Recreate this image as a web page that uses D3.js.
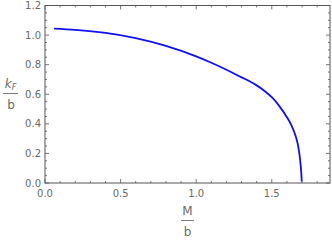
<!DOCTYPE html>
<html>
<head>
<meta charset="utf-8">
<script src="https://cdn.jsdelivr.net/npm/d3@7"></script>
<style>
  body { margin: 0; background: #fff; }
  svg { display: block; font-family: "DejaVu Sans", sans-serif; }
</style>
</head>
<body>
<svg width="332" height="241"></svg>
<script>
// courbe k_F/b en fonction de M/b
const massValues = [0.06, 0.2, 0.4, 0.6, 0.8, 1.0, 1.1, 1.2, 1.3, 1.35, 1.4, 1.45, 1.5, 1.55, 1.6, 1.63, 1.65, 1.67, 1.68, 1.69, 1.695, 1.698];
const kfValues   = [1.043, 1.035, 1.015, 0.980, 0.927, 0.856, 0.813, 0.766, 0.714, 0.690, 0.660, 0.624, 0.580, 0.520, 0.445, 0.390, 0.340, 0.272, 0.215, 0.130, 0.070, 0.010];
const xTicks = [0.0, 0.5, 1.0, 1.5];
const yTicks = [0.0, 0.2, 0.4, 0.6, 0.8, 1.0, 1.2];

const points = massValues.map((m, i) => ({ m: m, k: kfValues[i] }));

const svg = d3.select("svg");
const pLeft = 45, pRight = 330, pTop = 5.5, pBottom = 183;

const x = d3.scaleLinear().domain([0, 1.885]).range([pLeft, pRight]);
const y = d3.scaleLinear().domain([0, 1.2]).range([pBottom, pTop]);

const frameColor = "#555";
const labelColor = "#6a6a6a";

// ticks (intérieurs, Mathematica)
const xMinor = d3.range(0, 1.85, 0.1);
const yMinor = d3.range(0, 1.21, 0.05);

const ticks = svg.append("g").attr("stroke", frameColor).attr("stroke-width", 0.8);

xMinor.forEach(v => {
    const major = Math.abs(v * 2 - Math.round(v * 2)) < 1e-6;
    const len = major ? 4 : 2;
    ticks.append("line").attr("x1", x(v)).attr("x2", x(v)).attr("y1", pBottom).attr("y2", pBottom - len);
    ticks.append("line").attr("x1", x(v)).attr("x2", x(v)).attr("y1", pTop).attr("y2", pTop + len);
});
yMinor.forEach(v => {
    const major = Math.abs(v * 5 - Math.round(v * 5)) < 1e-6;
    const len = major ? 4 : 2;
    ticks.append("line").attr("y1", y(v)).attr("y2", y(v)).attr("x1", pLeft).attr("x2", pLeft + len);
    ticks.append("line").attr("y1", y(v)).attr("y2", y(v)).attr("x1", pRight).attr("x2", pRight - len);
});

// cadre
svg.append("rect")
    .attr("x", pLeft).attr("y", pTop)
    .attr("width", pRight - pLeft).attr("height", pBottom - pTop)
    .attr("fill", "none")
    .attr("stroke", frameColor)
    .attr("stroke-width", 1);

// labels des ticks
svg.append("g").selectAll("text")
    .data(xTicks)
    .enter()
    .append("text")
    .attr("x", d => x(d))
    .attr("y", 197)
    .attr("text-anchor", "middle")
    .attr("font-size", 10)
    .attr("fill", labelColor)
    .text(d => d.toFixed(1));

svg.append("g").selectAll("text")
    .data(yTicks)
    .enter()
    .append("text")
    .attr("x", 41)
    .attr("y", d => y(d) + 3.6)
    .attr("text-anchor", "end")
    .attr("font-size", 10)
    .attr("fill", labelColor)
    .text(d => d.toFixed(1));

// courbe
const line = d3.line()
    .x(d => x(d.m))
    .y(d => y(d.k))
    .curve(d3.curveMonotoneX);

svg.append("path")
    .datum(points)
    .attr("d", line)
    .attr("fill", "none")
    .attr("stroke", "#1010f0")
    .attr("stroke-width", 1.8);

// titres des axes (fractions)
const xl = svg.append("g").attr("fill", labelColor).attr("font-size", 12);
xl.append("text").attr("x", 187.5).attr("y", 215).attr("text-anchor", "middle").text("M");
xl.append("line").attr("x1", 181).attr("x2", 194).attr("y1", 220.5).attr("y2", 220.5)
    .attr("stroke", labelColor).attr("stroke-width", 0.9);
xl.append("text").attr("x", 187.5).attr("y", 236).attr("text-anchor", "middle").text("b");

const yl = svg.append("g").attr("fill", labelColor).attr("font-size", 12);
const kt = yl.append("text").attr("x", 10.5).attr("y", 88).attr("text-anchor", "middle");
kt.append("tspan").attr("font-style", "italic").text("k");
kt.append("tspan").attr("font-style", "italic").attr("font-size", 8).attr("dy", 2).text("F");
yl.append("line").attr("x1", 3).attr("x2", 18).attr("y1", 93.5).attr("y2", 93.5)
    .attr("stroke", labelColor).attr("stroke-width", 0.9);
yl.append("text").attr("x", 11).attr("y", 109).attr("text-anchor", "middle").text("b");
</script>
</body>
</html>
